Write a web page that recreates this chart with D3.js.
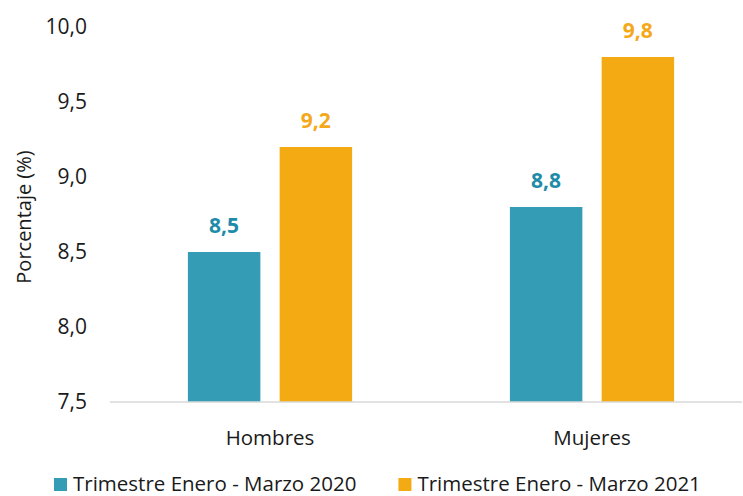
<!DOCTYPE html>
<html>
<head>
<meta charset="utf-8">
<script src="https://cdn.jsdelivr.net/npm/d3@7"></script>
<style>
  body { margin: 0; background: #fff; }
  svg { display: block; font-family: "Open Sans", sans-serif; }
</style>
</head>
<body>
<div class="chart"></div>
<script>
// data
const categories = ['Hombres', 'Mujeres'];
const seriesNames = ['Trimestre Enero - Marzo 2020', 'Trimestre Enero - Marzo 2021'];
const values2020 = [8.5, 8.8];
const values2021 = [9.2, 9.8];
const yTicks = [7.5, 8.0, 8.5, 9.0, 9.5, 10.0];

const colors = ['#359cb5', '#f4aa13'];
const labelColors = ['#1e8ca8', '#f4a81a'];

const width = 743;
const height = 496;

const svg = d3.select('.chart')
  .append('svg')
  .attr('width', width)
  .attr('height', height);

const fmt = v => d3.format('.1f')(v).replace('.', ',');

const y = d3.scaleLinear()
  .domain([7.5, 10])
  .range([402, 27]);

// outer bands for the two groups
const x0 = d3.scaleBand()
  .domain(categories)
  .range([109, 753])
  .paddingInner(0.49)
  .paddingOuter(0.245);

const x1 = d3.scaleBand()
  .domain(seriesNames)
  .range([0, x0.bandwidth()])
  .paddingInner(0.21);

// y axis labels only, no line
const yAxis = svg.append('g')
  .attr('transform', 'translate(87,0)')
  .call(d3.axisLeft(y).tickValues(yTicks).tickSize(0).tickPadding(0).tickFormat(fmt));
yAxis.select('.domain').remove();
yAxis.selectAll('text')
  .attr('font-family', '"Open Sans", sans-serif')
  .attr('font-size', 21)
  .attr('fill', '#1a1a1a');

svg.append('text')
  .attr('transform', 'translate(31,217) rotate(-90)')
  .attr('text-anchor', 'middle')
  .attr('font-size', 20)
  .attr('fill', '#1a1a1a')
  .text('Porcentaje (%)');

const rows = categories.map((c, i) => ({
  category: c,
  values: [values2020[i], values2021[i]]
}));

const groups = svg.selectAll('.group')
  .data(rows)
  .enter().append('g')
  .attr('class', 'group')
  .attr('transform', d => `translate(${x0(d.category)},0)`);

groups.selectAll('rect')
  .data(d => d.values.map((v, j) => ({ series: seriesNames[j], value: v, j: j })))
  .enter().append('rect')
  .attr('x', d => x1(d.series))
  .attr('y', d => y(d.value))
  .attr('width', x1.bandwidth())
  .attr('height', d => y(7.5) - y(d.value))
  .attr('fill', d => colors[d.j]);

groups.selectAll('.value')
  .data(d => d.values.map((v, j) => ({ series: seriesNames[j], value: v, j: j })))
  .enter().append('text')
  .attr('class', 'value')
  .attr('x', d => x1(d.series) + x1.bandwidth() / 2)
  .attr('y', d => y(d.value) - 19)
  .attr('text-anchor', 'middle')
  .attr('font-size', 21)
  .attr('font-weight', 'bold')
  .attr('fill', d => labelColors[d.j])
  .text(d => fmt(d.value));

// baseline
svg.append('line')
  .attr('x1', 110)
  .attr('x2', 742)
  .attr('y1', y(7.5))
  .attr('y2', y(7.5))
  .attr('stroke', '#d9d9d9')
  .attr('stroke-width', 1.5);

// category labels
svg.selectAll('.cat')
  .data(categories)
  .enter().append('text')
  .attr('class', 'cat')
  .attr('x', d => x0(d) + x0.bandwidth() / 2)
  .attr('y', 445)
  .attr('text-anchor', 'middle')
  .attr('font-size', 20.5)
  .attr('fill', '#1a1a1a')
  .text(d => d);

// legend
const legend = svg.append('g').attr('class', 'legend');
let lx = 54;
seriesNames.forEach((name, i) => {
  legend.append('rect')
    .attr('x', lx)
    .attr('y', 478)
    .attr('width', 13)
    .attr('height', 13)
    .attr('fill', colors[i]);
  const t = legend.append('text')
    .attr('x', lx + 19)
    .attr('y', 491)
    .attr('font-size', 20.5)
    .attr('fill', '#1a1a1a')
    .text(name);
  lx += 19 + t.node().getComputedTextLength() + 42;
});
</script>
</body>
</html>
